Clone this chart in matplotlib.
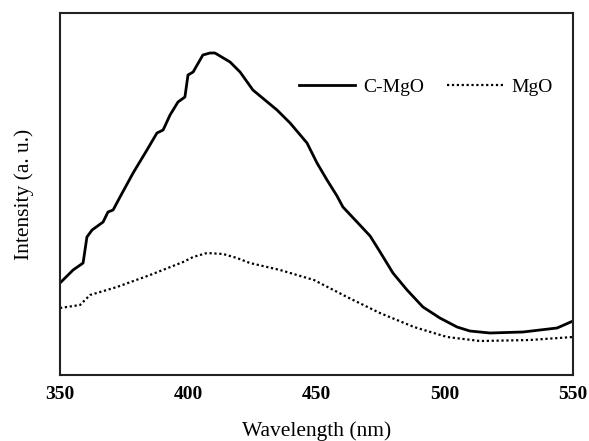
import matplotlib
matplotlib.use("Agg")
import matplotlib.pyplot as plt

wl_c = [350, 355.1, 359.0, 360.5, 362.5, 366.8, 368.7, 370.7, 373.4, 378.5, 383.9, 387.8,
        390.2, 392.9, 396.0, 398.7, 399.9, 401.9, 405.7, 408.5, 410.4, 416.3, 420.2, 425.2,
        434.6, 439.7, 446.3, 450.2, 454.1, 458.0, 460.3, 465.8, 470.9, 474.8, 479.8, 485.3,
        491.5, 498.1, 504.8, 509.8, 517.6, 530.5, 543.8, 550]
int_c = [92, 105, 112, 138, 145, 153, 163, 165, 178, 202, 225, 242,
         245, 260, 273, 278, 300, 303, 320, 322, 322, 313, 303, 285,
         265, 252, 232, 212, 195, 179, 168, 153, 139, 123, 102, 85,
         68, 57, 48, 44, 42, 43, 47, 54]

wl_m = [350, 357.8, 361.7, 372.2, 385.1, 398.0, 401.9, 407.3, 413.6, 419.0, 424.0, 435.8,
        449.0, 461.9, 474.7, 488.0, 500.9, 513.7, 533.2, 550]
int_m = [67, 70, 80, 88, 100, 113, 118, 122, 121, 117, 112, 105,
         95, 78, 62, 48, 38, 34, 35, 38]

labels = ["C-MgO", "MgO"]
xticks = [350, 400, 450, 500, 550]

plt.rcParams['font.family'] = ['Liberation Serif', 'DejaVu Serif']

fig = plt.figure(figsize=(5.89, 4.41), dpi=100)
ax = fig.add_axes([60/589, 1-375/441, 513/589, 362/441])

ax.plot(wl_c, int_c, color='black', lw=2.0, label=labels[0])
ax.plot(wl_m, int_m, color='black', lw=1.6, linestyle=(0, (1, 1.2)), label=labels[1])

ax.set_xlim(350, 550)
ax.set_ylim(0, 362)
ax.set_xticks(xticks)
ax.set_xticklabels([str(t) for t in xticks], fontweight='bold', fontsize=14)
ax.tick_params(axis='x', length=0, pad=8)
ax.set_yticks([])
for s in ax.spines.values():
    s.set_linewidth(1.5)
    s.set_color('#222222')

ax.set_xlabel("Wavelength (nm)", fontsize=15.5, labelpad=13)
ax.set_ylabel("Intensity (a. u.)", fontsize=15.5, labelpad=19)

ax.legend(loc='center', bbox_to_anchor=(0.713, 0.796), ncol=2, frameon=False,
          fontsize=14, handlelength=2.9, handletextpad=0.4, columnspacing=1.2)

fig.savefig("out.png", dpi=100)
